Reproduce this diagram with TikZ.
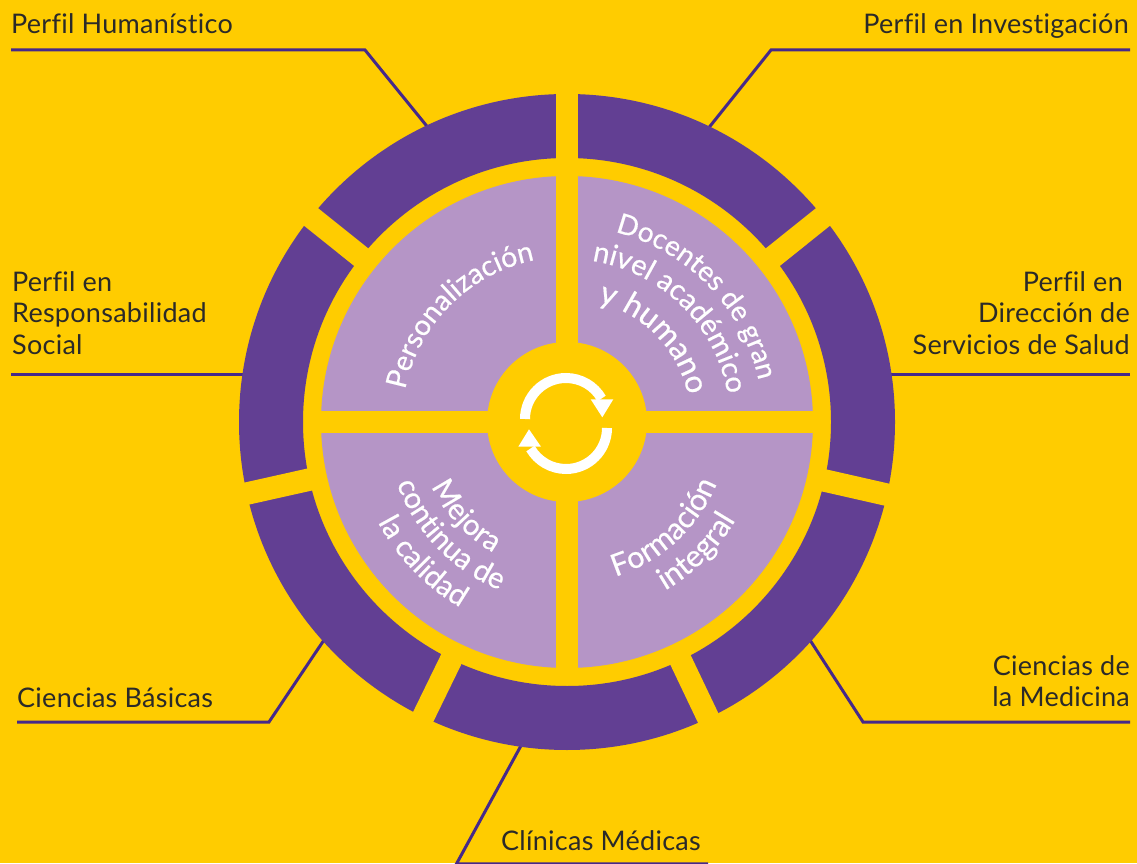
\documentclass[tikz,border=0pt]{standalone}
\usepackage{fontspec}
\setmainfont{Lato}[LetterSpace=1.0, Ligatures=NoCommon]
\newfontfamily\quadfont{Lato}[FakeBold=0.5, LetterSpace=0.6, Ligatures=NoCommon]
\usetikzlibrary{decorations.text}
\definecolor{bgyellow}{HTML}{FFCC00}
\definecolor{ringpurple}{HTML}{623F93}
\definecolor{quadlilac}{HTML}{B595C6}
\definecolor{linkpurple}{HTML}{46298A}
\definecolor{labelgray}{HTML}{2B2A29}
\tikzset{
  labeltext/.style={text=labelgray, inner sep=0pt, font=\fontsize{27}{31.5}\selectfont},
  linkline/.style={draw=linkpurple, line width=3pt, line join=miter},
  gapline/.style={draw=bgyellow, line width=22.5pt},
  arctext/.style 2 args={decorate, decoration={text along path, text align=center, text color=white,
    text={|\quadfont\fontsize{#1}{30}\selectfont|#2}}}
}
\begin{document}
\begin{tikzpicture}[x=1pt,y=1pt]
\useasboundingbox (0,0) rectangle (1137,863);
\fill[bgyellow] (0,0) rectangle (1137,863);
\coordinate (wheel) at (567,441);
% connectors
\begin{scope}
\clip (0,0) rectangle (1137,863);
\coordinate (humA) at (11,813);
\coordinate (humB) at (365,813);
\coordinate (humC) at (430,733);
\coordinate (invA) at (1130,813);
\coordinate (invB) at (771,813);
\coordinate (invC) at (707,733);
\coordinate (resA) at (11,488);
\coordinate (resB) at (250,488);
\coordinate (dirA) at (1130,488);
\coordinate (dirB) at (885,488);
\coordinate (basA) at (17,141);
\coordinate (basB) at (269,141);
\coordinate (basC) at (326,226);
\coordinate (medA) at (1130,141);
\coordinate (medB) at (863,141);
\coordinate (medC) at (808,226);
\coordinate (cliA) at (708,-0.8);
\coordinate (cliB) at (456.5,-0.8);
\coordinate (cliC) at (523,121);
\draw[linkline] (humA) -- (humB) -- (humC);
\draw[linkline] (invA) -- (invB) -- (invC);
\draw[linkline] (resA) -- (resB);
\draw[linkline] (dirA) -- (dirB);
\draw[linkline] (basA) -- (basB) -- (basC);
\draw[linkline] (medA) -- (medB) -- (medC);
\draw[linkline] (cliA) -- (cliB) -- (cliC);
\end{scope}
% outer ring
\fill[ringpurple, even odd rule] (wheel) circle[radius=328] (wheel) circle[radius=264];
\foreach \a in {90,38.7,-12.8,-64.5,-116,192.6,141.3}
  \draw[gapline] (wheel) -- ++(\a:345);
% quadrants
\fill[quadlilac] (wheel) circle[radius=246];
\draw[gapline] (wheel) ++(-250,0) -- ++(500,0);
\draw[gapline] (wheel) ++(0,-250) -- ++(0,500);
\fill[bgyellow] (wheel) circle[radius=80];
% cycle icon
\begin{scope}[shift={(wheel)}]
\draw[white, line width=10pt] (-42,3) arc[start angle=180, end angle=30, radius=41];
\draw[white, line width=10pt] (40,-6) arc[start angle=0, end angle=-150, radius=41];
\fill[white] (23.7,22.7) -- (46.3,22.7) -- (35.3,4.7) -- cycle;
\fill[white] (-48.7,-24.7) -- (-26,-24.7) -- (-38,-7.3) -- cycle;
% curved texts
\path[arctext={28}{Docentes de gran}] (79:196) arc[start angle=79, end angle=9, radius=196];
\path[arctext={29}{nivel académico}] (85:163) arc[start angle=85, end angle=6, radius=163];
\path[arctext={31.5}{y humano}] (79:124) arc[start angle=79, end angle=9, radius=124];
\path[arctext={28.5}{Personalización}] (175:165) arc[start angle=175, end angle=95, radius=165];
\path[arctext={30.5}{Formación}] (-80:162) arc[start angle=-80, end angle=-15, radius=162];
\path[arctext={30.5}{integral}] (-75:195) arc[start angle=-75, end angle=-15, radius=195];
\path[arctext={29.5}{Mejora}] (193:150) arc[start angle=193, end angle=253, radius=150];
\path[arctext={29.5}{continua de}] (189:181) arc[start angle=189, end angle=259, radius=181];
\path[arctext={29.5}{la calidad}] (194:214) arc[start angle=194, end angle=254, radius=214];
\end{scope}
% labels
\node[labeltext, anchor=base west] (hum) at (11,829) {Perfil Humanístico};
\node[labeltext, anchor=base east] (inv) at (1129,829) {Perfil en Investigación};
\node[labeltext, anchor=north west, align=left] (res) at (12,592) {Perfil en\\Responsabilidad\\Social};
\node[labeltext, anchor=north east, align=right] (dir) at (1130,592) {Perfil en\kern7pt\\Dirección de\\Servicios de Salud};
\node[labeltext, anchor=base west] (bas) at (17,156) {Ciencias Básicas};
\node[labeltext, anchor=north east, align=right] (med) at (1130,208) {Ciencias de\\la Medicina};
\node[labeltext, anchor=base west] (cli) at (501,13) {Clínicas Médicas};
\end{tikzpicture}
\end{document}
